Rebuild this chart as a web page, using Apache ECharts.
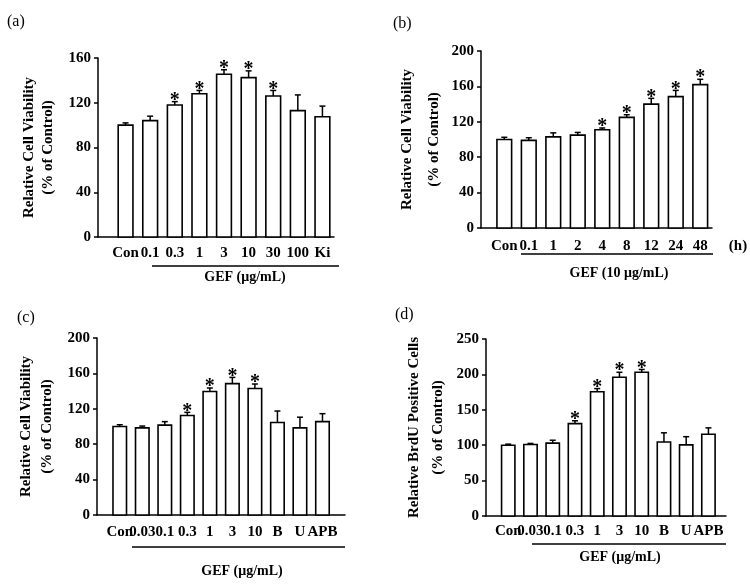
<!DOCTYPE html>
<html>
<head>
<meta charset="utf-8">
<script src="https://cdn.jsdelivr.net/npm/echarts@6/dist/echarts.min.js"></script>
<style>
  html, body { margin: 0; padding: 0; background: #fff; }
  #main { width: 750px; height: 585px; }
</style>
</head>
<body>
<div id="main"></div>
<script>
// panel (a): GEF dose, 24 h
var catsA = ['Con', '0.1', '0.3', '1', '3', '10', '30', '100', 'Ki']
var meanA = [100, 104, 118, 128, 145.5, 142.5, 126, 113, 107.5]
var errA  = [2, 4, 3, 3, 4, 6, 5, 14, 9.5]
var sigA  = [0, 0, 1, 1, 1, 1, 1, 0, 0]

// panel (b): 10 ug/mL, time course (h)
var catsB = ['Con', '0.1', '1', '2', '4', '8', '12', '24', '48']
var meanB = [100, 99, 103, 105, 111, 125, 140, 148.5, 162]
var errB  = [2.5, 3, 4.5, 3, 2, 3, 6.5, 7, 6]
var sigB  = [0, 0, 0, 0, 1, 1, 1, 1, 1]

// panel (c): viability with inhibitors
var catsC = ['Con', '0.03', '0.1', '0.3', '1', '3', '10', 'B', 'U', 'APB']
var meanC = [100, 98.5, 101.5, 112.5, 139.5, 148.5, 143, 104.5, 98.5, 105.5]
var errC  = [2, 2, 4, 3.5, 4, 7, 5, 13, 12, 9]
var sigC  = [0, 0, 0, 1, 1, 1, 1, 0, 0, 0]

// panel (d): BrdU positive cells
var catsD = ['Con', '0.03', '0.1', '0.3', '1', '3', '10', 'B', 'U', 'APB']
var meanD = [100, 101, 103, 130.5, 175.5, 196, 203, 104.5, 100.5, 115.5]
var errD  = [1.5, 1.5, 4, 4, 4.5, 7, 4, 13, 11.5, 9]
var sigD  = [0, 0, 0, 1, 1, 1, 1, 0, 0, 0]

var yTicksA = [0, 160, 40]
var yTicksB = [0, 200, 40]
var yTicksC = [0, 200, 40]
var yTicksD = [0, 250, 50]

var FONT = '"Liberation Serif", "DejaVu Serif", serif'

function rows(mean, err, sig) {
  return mean.map(function (m, i) { return [i, m, err[i], sig[i]] })
}

// bar + upper error bar + asterisk + category label, all placed through the axes
function makeRender(cats, labelOffset) {
  return function (params, api) {
    var i = api.value(0), v = api.value(1), e = api.value(2), s = api.value(3)
    var base = api.coord([i, 0])
    var top = api.coord([i, v])
    var eTop = api.coord([i, v + e])
    var w = api.size([1, 0])[0] * 0.6
    var kids = [
      { type: 'rect', shape: { x: base[0] - w / 2, y: top[1], width: w, height: base[1] - top[1] },
        style: { fill: '#fff', stroke: '#000', lineWidth: 1.6 } },
      { type: 'line', shape: { x1: top[0], y1: top[1], x2: top[0], y2: eTop[1] },
        style: { stroke: '#000', lineWidth: 1.5 } },
      { type: 'line', shape: { x1: top[0] - 3, y1: eTop[1], x2: top[0] + 3, y2: eTop[1] },
        style: { stroke: '#000', lineWidth: 1.5 } },
      { type: 'text', style: { text: cats[params.dataIndex], x: base[0], y: base[1] + labelOffset,
        align: 'center', verticalAlign: 'middle', font: 'bold 15px ' + FONT, fill: '#000' } }
    ]
    if (s) {
      kids.push({ type: 'text', style: { text: '*', x: top[0], y: eTop[1] + 9, align: 'center',
        verticalAlign: 'bottom', font: 'bold 20px ' + FONT, fill: '#000' } })
    }
    return { type: 'group', children: kids }
  }
}

var grids = [
  { left: 98, top: 58, width: 236, height: 179 },
  { left: 481, top: 51, width: 231, height: 177 },
  { left: 97, top: 338, width: 248, height: 177 },
  { left: 486, top: 339, width: 240, height: 177 }
]
var xRanges = [[-1.12, 8.47], [-0.95, 8.48], [-1.01, 10.0], [-1.0, 9.79]]
var allCats = [catsA, catsB, catsC, catsD]
var yTicks = [yTicksA, yTicksB, yTicksC, yTicksD]
var yNames = [
  'Relative Cell Viability\n(% of Control)',
  'Relative Cell Viability\n(% of Control)',
  'Relative Cell Viability\n(% of Control)',
  'Relative BrdU Positive Cells\n(% of Control)'
]
var nameGaps = [40, 29, 39, 36]
var nameLH = [19, 27, 21, 24]
var labelOffsets = [16, 18, 17, 15]

var option = {
  animation: false,
  backgroundColor: '#fff',
  textStyle: { fontFamily: FONT },
  grid: grids,
  xAxis: allCats.map(function (cats, k) {
    return {
      type: 'value', gridIndex: k, min: xRanges[k][0], max: xRanges[k][1],
      axisLine: { onZero: false, lineStyle: { color: '#000', width: 1.5 } },
      splitLine: { show: false },
      axisTick: { show: false },
      axisLabel: { show: false }
    }
  }),
  yAxis: yTicks.map(function (t, k) {
    return {
      type: 'value', gridIndex: k, min: t[0], max: t[1], interval: t[2],
      axisLine: { show: true, onZero: false, lineStyle: { color: '#000', width: 1.5 } },
      axisTick: { show: true, length: 4, lineStyle: { color: '#000', width: 1.5 } },
      splitLine: { show: false },
      axisLabel: { color: '#000', fontSize: 15, fontWeight: 'bold', fontFamily: FONT, margin: 7 },
      name: yNames[k], nameLocation: 'middle', nameRotate: 90, nameGap: nameGaps[k],
      nameTextStyle: { color: '#000', fontSize: 15, fontWeight: 'bold', fontFamily: FONT, lineHeight: nameLH[k] }
    }
  }),
  series: [
    rows(meanA, errA, sigA), rows(meanB, errB, sigB),
    rows(meanC, errC, sigC), rows(meanD, errD, sigD)
  ].map(function (d, k) {
    return { type: 'custom', xAxisIndex: k, yAxisIndex: k, data: d, clip: false,
      renderItem: makeRender(allCats[k], labelOffsets[k]) }
  }),
  graphic: [
    { type: 'text', left: 7, top: 14, style: { text: '(a)', font: '16px ' + FONT, fill: '#000' } },
    { type: 'text', left: 393, top: 16, style: { text: '(b)', font: '16px ' + FONT, fill: '#000' } },
    { type: 'text', left: 17, top: 310, style: { text: '(c)', font: '16px ' + FONT, fill: '#000' } },
    { type: 'text', left: 395, top: 307, style: { text: '(d)', font: '16px ' + FONT, fill: '#000' } },

    { type: 'line', shape: { x1: 152, y1: 266, x2: 339, y2: 266 }, style: { stroke: '#000', lineWidth: 1.3 } },
    { type: 'line', shape: { x1: 521, y1: 254, x2: 713, y2: 254 }, style: { stroke: '#000', lineWidth: 1.3 } },
    { type: 'line', shape: { x1: 132, y1: 547, x2: 345, y2: 547 }, style: { stroke: '#000', lineWidth: 1.3 } },
    { type: 'line', shape: { x1: 532, y1: 544, x2: 726, y2: 544 }, style: { stroke: '#000', lineWidth: 1.3 } },

    { type: 'text', x: 245, y: 277, style: { text: 'GEF (μg/mL)', align: 'center', verticalAlign: 'middle', font: 'bold 14px ' + FONT, fill: '#000' } },
    { type: 'text', x: 619, y: 273, style: { text: 'GEF (10 μg/mL)', align: 'center', verticalAlign: 'middle', font: 'bold 14px ' + FONT, fill: '#000' } },
    { type: 'text', x: 242, y: 571, style: { text: 'GEF (μg/mL)', align: 'center', verticalAlign: 'middle', font: 'bold 14px ' + FONT, fill: '#000' } },
    { type: 'text', x: 620, y: 557, style: { text: 'GEF (μg/mL)', align: 'center', verticalAlign: 'middle', font: 'bold 14px ' + FONT, fill: '#000' } },
    { type: 'text', x: 738, y: 246, style: { text: '(h)', align: 'center', verticalAlign: 'middle', font: 'bold 15px ' + FONT, fill: '#000' } }
  ]
}

var myChart = echarts.init(document.getElementById('main'))
myChart.setOption(option)
</script>
</body>
</html>
